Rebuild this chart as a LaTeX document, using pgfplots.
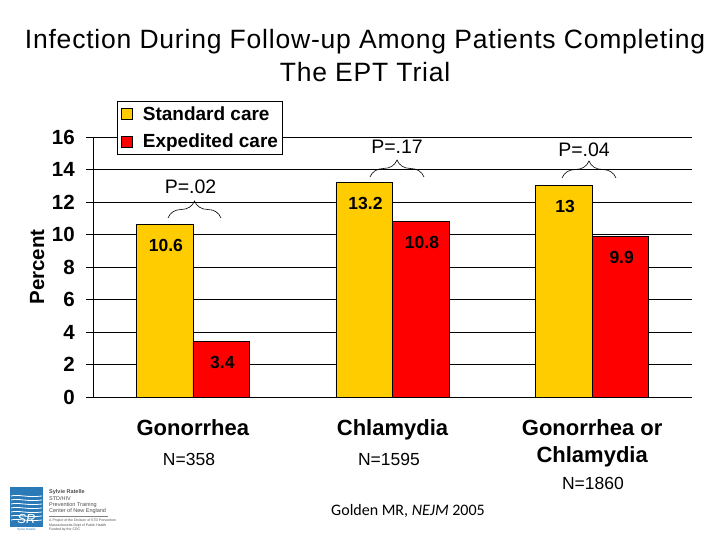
\documentclass[border=0pt]{standalone}
\usepackage{pgfplots}
\pgfplotsset{compat=1.18}
\usepackage{fontspec}
\setmainfont{Liberation Sans}
\newfontfamily\calibri{Carlito}
\usetikzlibrary{decorations.pathreplacing}
\definecolor{stdcare}{HTML}{FFCC00}
\definecolor{expcare}{HTML}{FF0000}
\definecolor{logoblue}{HTML}{2A7AB8}

\pgfplotsset{
  sqlegend/.style={legend image code/.code={\path (-2pt,0pt) (19pt,0pt); \draw[##1,draw=black,line width=0.6pt] (0pt,-5.5pt) rectangle (11pt,5.5pt);}},
  barlabel/.style={nodes near coords, point meta=explicit symbolic,
    every node near coord/.append style={anchor=north, inner sep=0pt, yshift=-14.5pt, xshift=#1,
      font=\fontsize{17.5}{20}\selectfont\bfseries, text=black}},
}

\begin{document}
\begin{tikzpicture}[x=1pt,y=1pt]
\useasboundingbox (0,0) rectangle (720,540);
% positions below are picture pixels, y counted from the bottom (540 - py)

% title
\node[font=\addfontfeature{LetterSpace=3}\fontsize{26.5}{33}\selectfont, align=center] at (365,484)
  {Infection During Follow-up Among Patients Completing\\The EPT Trial};

\begin{axis}[
  at={(93pt,143pt)}, anchor=south west,
  scale only axis, width=599pt, height=260pt,
  xmin=-0.5, xmax=2.5, ymin=0, ymax=16,
  axis lines*=left,
  axis line style={black, line width=0.6pt},
  ytick={0,2,...,16},
  xtick={0,1,2},
  xticklabels={Gonorrhea,Chlamydia,{Gonorrhea or\\Chlamydia}},
  x tick style={draw=none},
  y tick style={black, line width=0.6pt},
  tick align=outside,
  major tick length=7pt,
  ymajorgrids=true,
  grid style={black, line width=0.6pt},
  /pgf/number format/assume math mode=true,
  yticklabel style={font=\fontsize{20.5}{24}\selectfont\bfseries, inner sep=0pt, xshift=-11pt},
  xticklabel style={font=\fontsize{22}{27}\selectfont\bfseries, align=center, anchor=north, inner sep=0pt, yshift=-15pt},
  ylabel={Percent},
  ylabel style={font=\fontsize{20.5}{24}\selectfont\bfseries, at={(axis description cs:-0.093,0.5)}, anchor=center},
  legend style={at={(0.04,1.138)}, anchor=north west, draw=black, line width=0.6pt, fill=white,
    font=\fontsize{19}{22}\selectfont\bfseries, inner xsep=2pt, inner ysep=3pt,
    row sep=8pt, /tikz/every odd column/.append style={column sep=0pt}},
  legend cell align=left,
]
\addplot[ybar, bar width=56.6pt, bar shift=-28.3pt, fill=stdcare, draw=black, line width=0.6pt, sqlegend,
  barlabel=-27pt]
  coordinates {(0,10.6)[10.6] (1,13.2)[13.2] (2,13)[13]};
\addlegendentry{Standard care}
\addplot[ybar, bar width=56.6pt, bar shift=28.3pt, fill=expcare, draw=black, line width=0.6pt, sqlegend,
  barlabel=29.5pt]
  coordinates {(0,3.4)[3.4] (1,10.8)[10.8] (2,9.9)[9.9]};
\addlegendentry{Expedited care}
\end{axis}

% p values and braces
\begin{scope}[line width=0.6pt]
\draw[decorate, decoration={brace, amplitude=17pt}] (168,322) -- (221,322);
\draw[decorate, decoration={brace, amplitude=17pt}] (370,363) -- (424,363);
\draw[decorate, decoration={brace, amplitude=17pt}] (562,362) -- (616,362);
\end{scope}
\node[font=\fontsize{19.5}{22}\selectfont] at (190.5,353) {P=.02};
\node[font=\fontsize{19.5}{22}\selectfont] at (397,393) {P=.17};
\node[font=\fontsize{19.5}{22}\selectfont] at (584,390) {P=.04};

% sample sizes
\node[font=\fontsize{17.5}{20}\selectfont] at (189,81) {N=358};
\node[font=\fontsize{17.5}{20}\selectfont] at (389,81) {N=1595};
\node[font=\fontsize{17.5}{20}\selectfont] at (593,57) {N=1860};

% source
\node[font=\calibri\fontsize{16}{18}\selectfont] at (408,29) {Golden MR, \textit{NEJM} 2005};

% logo
\fill[logoblue] (10,8) rectangle (43,53);
\foreach \yy in {44,40,36,32,28,24,20} {
  \draw[white, line width=0.8pt] (11,\yy) .. controls (19,\yy+2) and (27,\yy-2) .. (42,\yy);
}
\node[white, font=\fontsize{13}{13}\selectfont\itshape] at (26.5,21) {SR};
\fill[white] (10,8) rectangle (43,13);
\node[logoblue, font=\fontsize{3}{3}\selectfont] at (26.5,10.5) {Sylvie Ratelle};
\begin{scope}[font=\fontsize{5.5}{6.2}\selectfont, text=black!70]
\node[anchor=west, inner sep=0pt, font=\fontsize{5.5}{6}\selectfont\bfseries] at (49,48) {Sylvie Ratelle};
\node[anchor=west, inner sep=0pt] at (49,41.5) {STD/HIV};
\node[anchor=west, inner sep=0pt] at (49,35) {Prevention Training};
\node[anchor=west, inner sep=0pt] at (49,28.5) {Center of New England};
\draw[black!50, line width=0.4pt] (49,23.5) -- (108,23.5);
\node[anchor=west, inner sep=0pt, font=\fontsize{3.5}{4}\selectfont] at (49,19) {A Project of the Division of STD Prevention};
\node[anchor=west, inner sep=0pt, font=\fontsize{3.5}{4}\selectfont] at (49,14.5) {Massachusetts Dept of Public Health};
\node[anchor=west, inner sep=0pt, font=\fontsize{3.5}{4}\selectfont] at (49,10) {Funded by the CDC};
\end{scope}
\end{tikzpicture}
\end{document}
